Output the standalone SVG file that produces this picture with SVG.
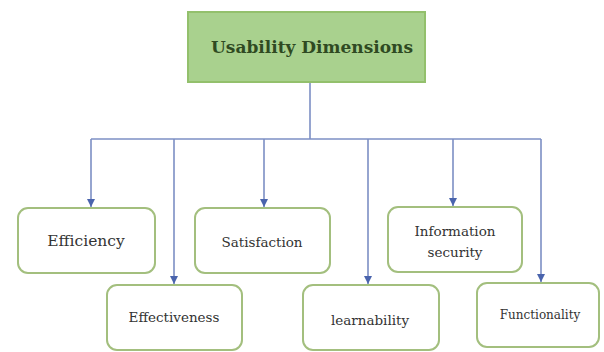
<svg xmlns="http://www.w3.org/2000/svg" width="604" height="352" viewBox="0 0 604 352">
<style>
.node rect{fill:#ffffff;stroke:#a3bf7e;stroke-width:2}
.node text{font-family:"DejaVu Serif","Liberation Serif",serif;font-size:13.5px;fill:#333333;text-anchor:middle;dominant-baseline:middle}
.node text.big{font-size:15.5px}
.node text.small{font-size:12px}
.title{font-family:"DejaVu Serif",serif;font-size:17px;font-weight:bold;fill:#2f4a22;text-anchor:middle;dominant-baseline:middle}
.conn{fill:none;stroke:#7c8fc4;stroke-width:1.6}
</style>
<defs>
<marker id="arr" viewBox="0 0 10 10" refX="10" refY="5" markerWidth="5" markerHeight="5" orient="auto" markerUnits="strokeWidth">
<path d="M0,0 L10,5 L0,10 z" fill="#4a64ad"/>
</marker>
</defs>
<rect width="604" height="352" fill="#ffffff"/>
<g id="connectors">
<path class="conn" d="M310,82 V139"/>
<path class="conn" d="M91,139 H541"/>
<path class="conn" d="M91,139 V207" marker-end="url(#arr)"/>
<path class="conn" d="M174,139 V284" marker-end="url(#arr)"/>
<path class="conn" d="M264,139 V207" marker-end="url(#arr)"/>
<path class="conn" d="M368,139 V284" marker-end="url(#arr)"/>
<path class="conn" d="M453,139 V206" marker-end="url(#arr)"/>
<path class="conn" d="M541,139 V282" marker-end="url(#arr)"/>
</g>
<g id="root">
<rect x="188" y="12" width="237" height="70" fill="#a9d18e" stroke="#93c06c" stroke-width="2"/>
<text class="title" x="312" y="48">Usability Dimensions</text>
</g>
<g id="efficiency" class="node">
<rect x="18" y="208" width="137" height="65" rx="10"/>
<text class="big" x="86" y="242">Efficiency</text>
</g>
<g id="effectiveness" class="node">
<rect x="107" y="285" width="135" height="65" rx="10"/>
<text x="174" y="318">Effectiveness</text>
</g>
<g id="satisfaction" class="node">
<rect x="195" y="208" width="135" height="65" rx="10"/>
<text x="262" y="243">Satisfaction</text>
</g>
<g id="learnability" class="node">
<rect x="303" y="285" width="136" height="65" rx="10"/>
<text x="370" y="321">learnability</text>
</g>
<g id="information-security" class="node">
<rect x="388" y="207" width="134" height="65" rx="10"/>
<text x="455" y="232">Information</text>
<text x="455" y="253">security</text>
</g>
<g id="functionality" class="node">
<rect x="477" y="283" width="122" height="64" rx="10"/>
<text class="small" x="540" y="315">Functionality</text>
</g>
</svg>
